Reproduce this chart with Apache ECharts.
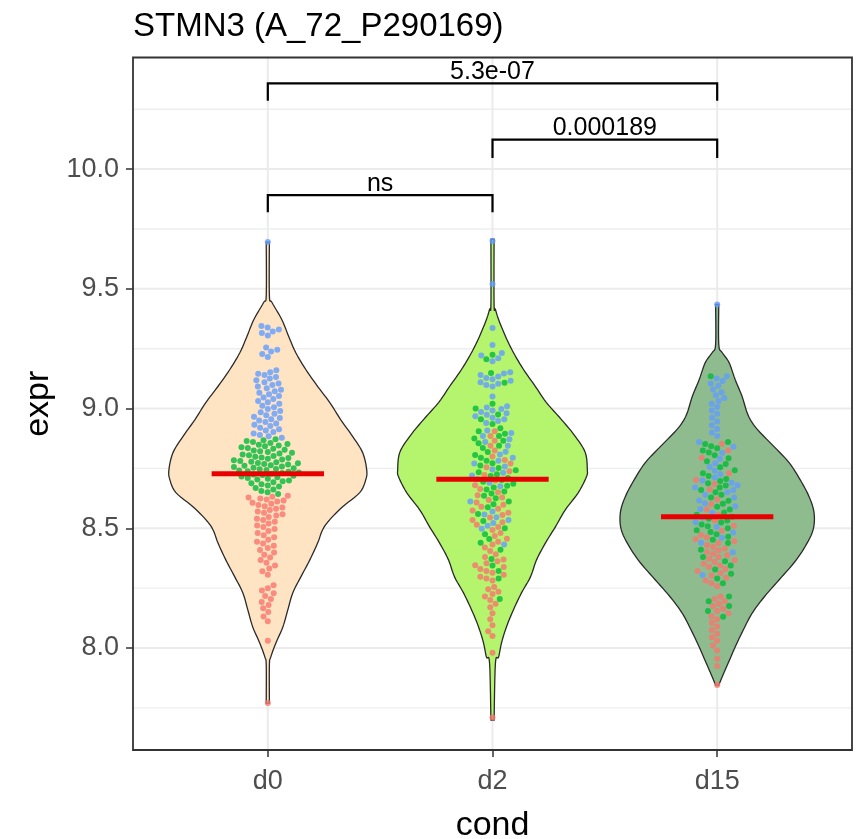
<!DOCTYPE html>
<html><head><meta charset="utf-8">
<script src="https://cdn.jsdelivr.net/npm/echarts@6/dist/echarts.min.js"></script>
<style>html,body{margin:0;padding:0;background:#fff}#c{width:863px;height:839px}</style>
</head><body><div id="c"></div>
<script>
// ---------- data ----------
const categories = ['d0', 'd2', 'd15'];
const yTicks = [8.0, 8.5, 9.0, 9.5, 10.0];
const yMinorTicks = [7.75, 8.25, 8.75, 9.25, 9.75, 10.25];
const medians = [8.728, 8.705, 8.548];

// violin outlines (value levels, half-widths in category units)
const d0Levels = [9.695, 9.473, 9.444, 9.372, 9.301, 9.234, 9.163, 9.092, 9.025, 8.954, 8.883, 8.816, 8.745, 8.703, 8.649, 8.590, 8.536, 8.494, 8.439, 8.368, 8.297, 8.230, 8.159, 8.088, 8.021, 7.962, 7.929, 7.770];
const d0Widths = [0.007, 0.007, 0.018, 0.062, 0.093, 0.124, 0.169, 0.222, 0.276, 0.324, 0.378, 0.422, 0.44, 0.436, 0.409, 0.333, 0.276, 0.244, 0.222, 0.187, 0.147, 0.111, 0.089, 0.067, 0.036, 0.013, 0.007, 0.007];
const d2Levels = [9.707, 9.435, 9.414, 9.372, 9.301, 9.234, 9.163, 9.092, 9.025, 8.954, 8.883, 8.816, 8.745, 8.715, 8.649, 8.577, 8.506, 8.439, 8.368, 8.297, 8.230, 8.159, 8.088, 8.021, 7.962, 7.937, 7.699];
const d2Widths = [0.007, 0.007, 0.013, 0.027, 0.058, 0.093, 0.138, 0.191, 0.24, 0.307, 0.369, 0.413, 0.422, 0.418, 0.382, 0.324, 0.28, 0.236, 0.196, 0.169, 0.129, 0.093, 0.062, 0.04, 0.027, 0.013, 0.007];
const d15Levels = [9.435, 9.268, 9.234, 9.192, 9.121, 9.050, 8.983, 8.941, 8.900, 8.841, 8.774, 8.703, 8.632, 8.565, 8.494, 8.423, 8.356, 8.285, 8.213, 8.146, 8.075, 8.004, 7.937, 7.879, 7.845];
const d15Widths = [0.007, 0.007, 0.022, 0.053, 0.08, 0.111, 0.133, 0.156, 0.191, 0.253, 0.32, 0.369, 0.409, 0.431, 0.427, 0.391, 0.342, 0.276, 0.209, 0.156, 0.116, 0.08, 0.049, 0.022, 0.007];

// points by condition and colour group
const d0Blue = [9.695, 9.345, 9.338, 9.33, 9.322, 9.315, 9.305, 9.255, 9.245, 9.238, 9.228, 9.215, 9.16, 9.152, 9.145, 9.14, 9.132, 9.125, 9.118, 9.11, 9.105, 9.098, 9.092, 9.085, 9.078, 9.072, 9.066, 9.06, 9.052, 9.046, 9.04, 9.032, 9.026, 9.02, 9.012, 9.005, 8.998, 8.99, 8.985, 8.978, 8.972, 8.966, 8.96, 8.955, 8.95, 8.944, 8.938, 8.932, 8.927, 8.92, 8.914, 8.908, 8.902, 8.896, 8.89, 8.884, 8.878];
const d0Green = [8.872, 8.868, 8.864, 8.86, 8.856, 8.852, 8.849, 8.846, 8.842, 8.838, 8.835, 8.832, 8.828, 8.825, 8.822, 8.818, 8.815, 8.812, 8.808, 8.805, 8.802, 8.799, 8.796, 8.793, 8.79, 8.787, 8.784, 8.781, 8.778, 8.776, 8.773, 8.771, 8.768, 8.766, 8.763, 8.761, 8.758, 8.756, 8.753, 8.751, 8.748, 8.746, 8.743, 8.741, 8.738, 8.736, 8.733, 8.731, 8.728, 8.725, 8.722, 8.719, 8.716, 8.713, 8.71, 8.707, 8.704, 8.7, 8.696, 8.692, 8.688, 8.684, 8.679, 8.674, 8.668, 8.662, 8.656, 8.65, 8.643];
const d0Red = [8.636, 8.632, 8.628, 8.624, 8.62, 8.616, 8.612, 8.607, 8.602, 8.597, 8.592, 8.587, 8.582, 8.576, 8.57, 8.565, 8.559, 8.553, 8.547, 8.54, 8.534, 8.527, 8.52, 8.512, 8.505, 8.497, 8.489, 8.48, 8.471, 8.462, 8.452, 8.444, 8.436, 8.427, 8.418, 8.409, 8.399, 8.389, 8.378, 8.367, 8.356, 8.344, 8.332, 8.32, 8.306, 8.262, 8.25, 8.24, 8.229, 8.217, 8.205, 8.192, 8.18, 8.166, 8.15, 8.132, 8.112, 8.03, 7.77];
const d2Blue = [9.70, 9.52, 9.336, 9.265, 9.232, 9.222, 9.21, 9.198, 9.152, 9.146, 9.14, 9.134, 9.128, 9.122, 9.116, 9.11, 9.104, 9.098, 9.092, 9.05, 9.01, 9.004, 8.998, 8.992, 8.986, 8.98, 8.974, 8.968, 8.962, 8.955, 8.948, 8.94, 8.908, 8.898, 8.885, 8.872, 8.86, 8.845, 8.82, 8.808, 8.795, 8.782, 8.77, 8.758, 8.745, 8.732, 8.72, 8.705, 8.69, 8.675, 8.612, 8.57, 8.558, 8.546, 8.534, 8.522, 8.51, 8.498, 8.432];
const d2Green = [9.225, 9.206, 9.148, 9.108, 9.02, 9.0, 8.975, 8.955, 8.935, 8.918, 8.905, 8.895, 8.885, 8.875, 8.865, 8.855, 8.845, 8.835, 8.818, 8.806, 8.794, 8.782, 8.772, 8.762, 8.752, 8.742, 8.734, 8.726, 8.718, 8.71, 8.702, 8.694, 8.686, 8.678, 8.67, 8.662, 8.654, 8.645, 8.636, 8.625, 8.612, 8.6, 8.588, 8.56, 8.53, 8.5, 8.475, 8.455, 8.44, 8.41, 8.372, 8.345, 8.322, 8.29, 8.205];
const d2Red = [8.905, 8.885, 8.865, 8.845, 8.825, 8.8, 8.785, 8.77, 8.755, 8.738, 8.722, 8.7, 8.68, 8.664, 8.65, 8.638, 8.628, 8.618, 8.608, 8.598, 8.59, 8.582, 8.574, 8.565, 8.555, 8.545, 8.535, 8.525, 8.515, 8.505, 8.493, 8.48, 8.468, 8.456, 8.444, 8.432, 8.42, 8.405, 8.392, 8.38, 8.37, 8.362, 8.354, 8.346, 8.338, 8.33, 8.322, 8.314, 8.306, 8.298, 8.29, 8.282, 8.255, 8.245, 8.235, 8.225, 8.215, 8.2, 8.185, 8.17, 8.145, 8.12, 8.095, 8.07, 8.05, 7.98, 7.71];
const d15Blue = [9.435, 9.135, 9.125, 9.115, 9.105, 9.095, 9.08, 9.068, 9.056, 9.044, 9.032, 9.02, 9.006, 8.992, 8.978, 8.962, 8.946, 8.93, 8.915, 8.9, 8.885, 8.86, 8.84, 8.815, 8.79, 8.772, 8.756, 8.74, 8.726, 8.712, 8.7, 8.69, 8.68, 8.67, 8.66, 8.65, 8.64, 8.628, 8.616, 8.604, 8.592, 8.58, 8.565, 8.545, 8.525, 8.505, 8.482, 8.46, 8.44, 8.4, 8.305];
const d15Green = [9.135, 8.86, 8.852, 8.843, 8.834, 8.825, 8.816, 8.805, 8.792, 8.78, 8.768, 8.755, 8.742, 8.73, 8.718, 8.706, 8.697, 8.688, 8.679, 8.67, 8.66, 8.65, 8.64, 8.628, 8.615, 8.602, 8.59, 8.578, 8.566, 8.556, 8.548, 8.54, 8.532, 8.524, 8.516, 8.508, 8.5, 8.492, 8.484, 8.475, 8.465, 8.452, 8.438, 8.41, 8.38, 8.362, 8.345, 8.328, 8.31, 8.29, 8.27, 8.215, 8.195, 8.175, 8.155, 8.13];
const d15Red = [8.852, 8.825, 8.795, 8.73, 8.702, 8.685, 8.662, 8.62, 8.6, 8.578, 8.555, 8.532, 8.51, 8.49, 8.472, 8.462, 8.454, 8.446, 8.438, 8.43, 8.422, 8.415, 8.408, 8.401, 8.394, 8.387, 8.38, 8.373, 8.366, 8.359, 8.352, 8.345, 8.338, 8.33, 8.322, 8.313, 8.303, 8.293, 8.282, 8.27, 8.258, 8.215, 8.205, 8.195, 8.185, 8.175, 8.165, 8.155, 8.145, 8.133, 8.12, 8.105, 8.09, 8.075, 8.06, 8.045, 8.03, 8.01, 7.99, 7.955, 7.925, 7.845];

// significance brackets
const bracketFrom = [1, 2, 1];
const bracketTo = [2, 3, 3];
const bracketLevel = [9.891, 10.123, 10.358];
const bracketTip = [9.82, 10.046, 10.285];
const bracketLabels = ['ns', '0.000189', '5.3e-07'];

// ---------- styles ----------
const FONT = 'Liberation Sans';
const violinFills = ['#FFE4C4', '#B5F56E', '#8FBC8F'];
const groupColors = {red: '#F8766D', green: '#00BA38', blue: '#619CFF'};
const violinLevels = [d0Levels, d2Levels, d15Levels];
const violinWidths = [d0Widths, d2Widths, d15Widths];
const groups = [
  {red: d0Red, green: d0Green, blue: d0Blue},
  {red: d2Red, green: d2Green, blue: d2Blue},
  {red: d15Red, green: d15Green, blue: d15Blue}
];

function catmull(pts, steps) {
  const out = [];
  for (let i = 0; i < pts.length - 1; i++) {
    const p0 = pts[Math.max(0, i - 1)], p1 = pts[i], p2 = pts[i + 1], p3 = pts[Math.min(pts.length - 1, i + 2)];
    for (let s = 0; s < steps; s++) {
      const t = s / steps, t2 = t * t, t3 = t2 * t;
      const f = (a, b, c, d) => 0.5 * ((2 * b) + (-a + c) * t + (2 * a - 5 * b + 4 * c - d) * t2 + (-a + 3 * b - 3 * c + d) * t3);
      out.push([f(p0[0], p1[0], p2[0], p3[0]), f(p0[1], p1[1], p2[1], p3[1])]);
    }
  }
  out.push(pts[pts.length - 1]);
  return out;
}

const chart = echarts.init(document.getElementById('c'), null, {renderer: 'canvas'});

const option = {
  animation: false,
  backgroundColor: '#ffffff',
  title: {
    text: 'STMN3 (A_72_P290169)', left: 133, top: 10, padding: 0,
    textStyle: {fontFamily: FONT, fontSize: 33, fontWeight: 'normal', color: '#000'}
  },
  grid: {left: 133, right: 11, top: 57.5, bottom: 89, show: false, containLabel: false, outerBoundsMode: 'none'},
  xAxis: {
    type: 'value', min: 0.4, max: 3.6,
    axisLine: {show: false}, splitLine: {show: false},
    axisTick: {show: true, customValues: [1, 2, 3], length: 7, lineStyle: {color: '#333', width: 1.5}},
    axisLabel: {customValues: [1, 2, 3], formatter: v => categories[Math.round(v) - 1], fontFamily: FONT, fontSize: 27, color: '#4D4D4D', margin: 18},
    name: 'cond', nameLocation: 'middle', nameGap: 59,
    nameTextStyle: {fontFamily: FONT, fontSize: 34, color: '#000'}
  },
  yAxis: {
    type: 'value', min: 7.574, max: 10.466,
    axisLine: {show: false}, splitLine: {show: false},
    axisTick: {show: true, customValues: yTicks, length: 7, lineStyle: {color: '#333', width: 1.5}},
    axisLabel: {customValues: yTicks, formatter: v => v.toFixed(1), fontFamily: FONT, fontSize: 27, color: '#4D4D4D', margin: 14},
    name: 'expr', nameLocation: 'middle', nameGap: 77, nameRotate: 90,
    nameTextStyle: {fontFamily: FONT, fontSize: 34, color: '#000'}
  },
  series: [
    {
      id: 'panel', type: 'custom', silent: true, z: 1,
      data: [[1, 9]],
      renderItem: function (params, api) {
        const cs = params.coordSys;
        const children = [];
        yMinorTicks.forEach(v => {
          const y = api.coord([1, v])[1];
          children.push({type: 'line', shape: {x1: cs.x, y1: y, x2: cs.x + cs.width, y2: y}, style: {stroke: '#EEEEEE', lineWidth: 1.4}});
        });
        yTicks.forEach(v => {
          const y = api.coord([1, v])[1];
          children.push({type: 'line', shape: {x1: cs.x, y1: y, x2: cs.x + cs.width, y2: y}, style: {stroke: '#EBEBEB', lineWidth: 2}});
        });
        [1, 2, 3].forEach(g => {
          const x = api.coord([g, 9])[0];
          children.push({type: 'line', shape: {x1: x, y1: cs.y, x2: x, y2: cs.y + cs.height}, style: {stroke: '#EBEBEB', lineWidth: 2}});
        });
        children.push({type: 'rect', shape: {x: cs.x, y: cs.y, width: cs.width, height: cs.height}, style: {fill: 'none', stroke: '#333333', lineWidth: 1.8}});
        return {type: 'group', children: children};
      }
    },
    {
      id: 'violin', type: 'custom', silent: true, z: 2,
      data: medians.map((m, i) => [i + 1, m]),
      renderItem: function (params, api) {
        const i = params.dataIndex;
        const g = api.value(0);
        const lv = violinLevels[i], wd = violinWidths[i];
        const right = lv.map((v, k) => api.coord([g + wd[k], v]));
        const left = lv.map((v, k) => api.coord([g - wd[k], v])).reverse();
        const r = catmull(right, 6), l = catmull(left, 6);
        return {type: 'polygon', shape: {points: r.concat(l)}, style: {fill: violinFills[i], stroke: '#2a2a2a', lineWidth: 1.3}};
      }
    },
    {
      id: 'pts', type: 'scatter', symbol: 'circle', symbolSize: 6, z: 3, silent: true,
      data: []
    },
    {
      id: 'median', type: 'custom', silent: true, z: 4,
      data: medians.map((m, i) => [i + 1, m]),
      renderItem: function (params, api) {
        const g = api.value(0), m = api.value(1);
        const a = api.coord([g - 0.25, m]), b = api.coord([g + 0.25, m]);
        return {type: 'line', shape: {x1: a[0], y1: a[1], x2: b[0], y2: b[1]}, style: {stroke: '#E80000', lineWidth: 5}};
      }
    },
    {
      id: 'brackets', type: 'custom', silent: true, z: 5,
      encode: {x: [0, 1], y: [2, 3]},
      data: bracketFrom.map((f, i) => [f, bracketTo[i], bracketLevel[i], bracketTip[i]]),
      renderItem: function (params, api) {
        const i = params.dataIndex;
        const f = api.value(0), t = api.value(1), lvl = api.value(2), tip = api.value(3);
        const a = api.coord([f, lvl]), b = api.coord([t, lvl]);
        const ta = api.coord([f, tip]), tb = api.coord([t, tip]);
        return {type: 'group', children: [
          {type: 'polyline', shape: {points: [ta, a, b, tb]}, style: {stroke: '#000', lineWidth: 2.2, fill: 'none'}},
          {type: 'text', style: {text: bracketLabels[i], x: (a[0] + b[0]) / 2, y: a[1] + 1, align: 'center', verticalAlign: 'bottom', fontFamily: FONT, fontSize: 25, fill: '#000'}}
        ]};
      }
    }
  ]
};
chart.setOption(option);

// beeswarm layout in pixel space, using the chart's own scales
const p0 = chart.convertToPixel({gridIndex: 0}, [1, 8]);
const p1 = chart.convertToPixel({gridIndex: 0}, [2, 9]);
const pxPerX = p1[0] - p0[0];
const pxPerY = p0[1] - p1[1];
const DIAM = 6.4;

function swarm(vals) {
  const order = vals.map((v, i) => i).sort((a, b) => vals[a] - vals[b]);
  const placed = [];
  const xs = new Array(vals.length);
  order.forEach(i => {
    const y = vals[i] * pxPerY;
    const near = placed.filter(p => Math.abs(p.y - y) < DIAM);
    const cands = [0];
    near.forEach(p => {
      const dx = Math.sqrt(DIAM * DIAM - (p.y - y) * (p.y - y));
      cands.push(p.x + dx, p.x - dx);
    });
    cands.sort((a, b) => Math.abs(a) - Math.abs(b) || a - b);
    let best = 0;
    for (const c of cands) {
      if (near.every(p => (p.x - c) * (p.x - c) + (p.y - y) * (p.y - y) >= DIAM * DIAM - 1e-6)) { best = c; break; }
    }
    xs[i] = best;
    placed.push({x: best, y: y});
  });
  return xs;
}

const ptsData = [];
groups.forEach((grp, gi) => {
  const vals = [], cols = [];
  ['red', 'green', 'blue'].forEach(k => grp[k].forEach(v => { vals.push(v); cols.push(groupColors[k]); }));
  const xs = swarm(vals);
  vals.forEach((v, i) => ptsData.push({value: [gi + 1 + xs[i] / pxPerX, v], itemStyle: {color: cols[i]}}));
});
chart.setOption({series: [{id: 'pts', data: ptsData}]});
</script>
</body></html>
